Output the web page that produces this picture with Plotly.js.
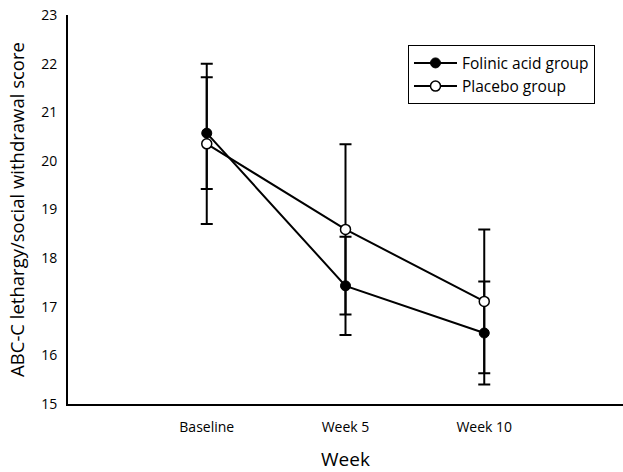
<!DOCTYPE html>
<html>
<head>
<meta charset="utf-8">
<script src="https://cdn.plot.ly/plotly-3.0.1.min.js"></script>
<style>html,body{margin:0;padding:0;background:#fff}#chart{width:623px;height:472px}</style>
</head>
<body>
<div id="chart"></div>
<script>
const categories = ["Baseline", "Week 5", "Week 10"];
const folinicMean = [20.57, 17.43, 16.46];
const folinicErr = [1.15, 1.01, 1.06];
const placeboMean = [20.35, 18.59, 17.11];
const placeboErr = [1.65, 1.75, 1.48];
const yTicks = [15, 16, 17, 18, 19, 20, 21, 22, 23];

const FONT = "Open Sans, Noto Sans, sans-serif";

const traces = [
  {
    name: "Folinic acid group",
    x: categories,
    y: folinicMean,
    type: "scatter",
    mode: "lines+markers",
    line: {color: "black", width: 2},
    marker: {symbol: "circle", size: 10, color: "black", line: {color: "black", width: 1}},
    error_y: {type: "data", array: folinicErr, visible: true, color: "black", thickness: 2, width: 6}
  },
  {
    name: "Placebo group",
    x: categories,
    y: placeboMean,
    type: "scatter",
    mode: "lines+markers",
    line: {color: "black", width: 2},
    marker: {symbol: "circle", size: 10, color: "white", line: {color: "black", width: 1.5}},
    error_y: {type: "data", array: placeboErr, visible: true, color: "black", thickness: 2, width: 6}
  }
];

const layout = {
  width: 623,
  height: 472,
  margin: {l: 68, r: 0, t: 15, b: 68, pad: 0},
  paper_bgcolor: "white",
  plot_bgcolor: "white",
  font: {family: FONT, color: "black", size: 14},
  showlegend: true,
  legend: {
    x: 0.6126, y: 0.922, xanchor: "left", yanchor: "top",
    bordercolor: "black", borderwidth: 1, bgcolor: "white",
    font: {family: FONT, size: 15.5, color: "black"},
    itemwidth: 43,
    tracegroupgap: 0
  },
  xaxis: {
    type: "category",
    range: [-1, 3],
    showline: true, linecolor: "black", linewidth: 2,
    showgrid: false, zeroline: false,
    ticks: "outside", ticklen: 9, tickcolor: "rgba(0,0,0,0)",
    tickfont: {family: FONT, size: 14, color: "black"},
    title: {text: "Week", font: {family: FONT, size: 19, color: "black"}, standoff: 18}
  },
  yaxis: {
    range: [15, 23],
    tickvals: yTicks,
    ticktext: yTicks.map(String),
    showline: true, linecolor: "black", linewidth: 2,
    showgrid: false, zeroline: false,
    ticks: "outside", ticklen: 6, tickcolor: "rgba(0,0,0,0)",
    tickfont: {family: FONT, size: 14, color: "black"},
    title: {text: "ABC-C lethargy/social withdrawal score", font: {family: FONT, size: 18.5, color: "black"}, standoff: 12}
  }
};

Plotly.newPlot("chart", traces, layout, {displayModeBar: false, staticPlot: true});
</script>
</body>
</html>
